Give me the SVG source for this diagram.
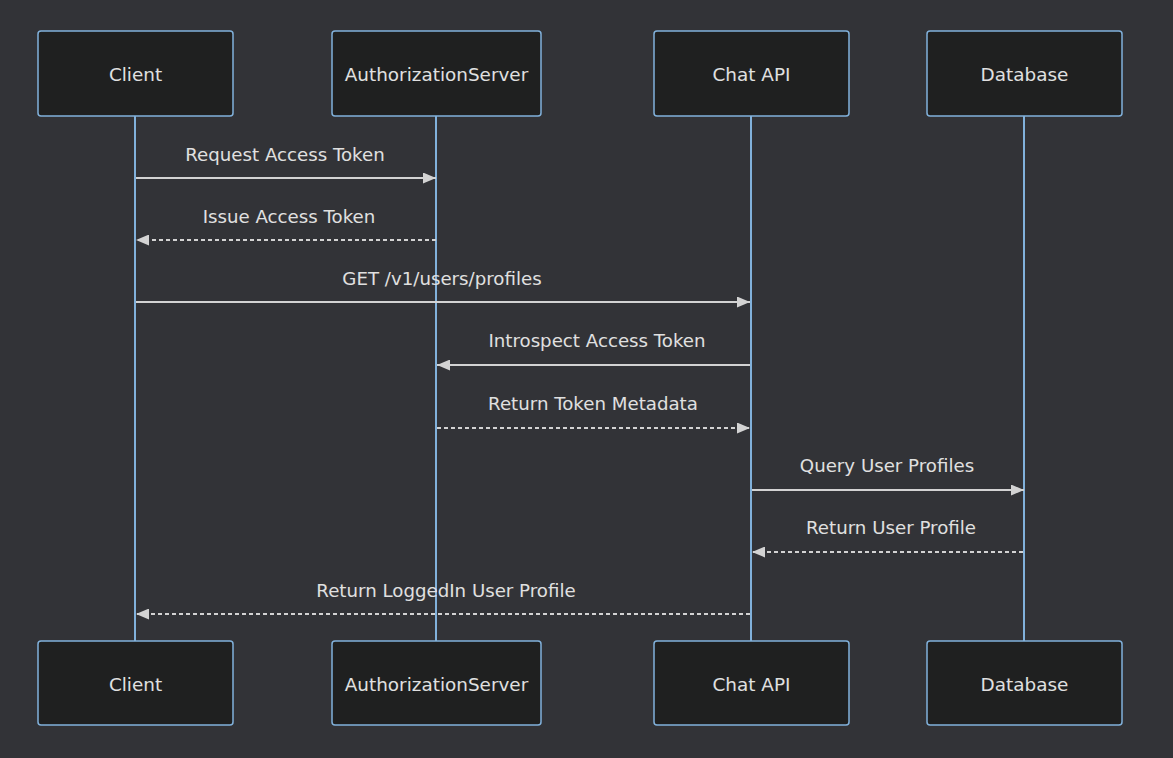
<svg xmlns="http://www.w3.org/2000/svg" width="1173" height="758" viewBox="0 0 1173 758">
<defs>
<style>
.bg{fill:#323337}
.actor rect{fill:#1f2020;stroke:#81b1db;stroke-width:1.5}
.actor text{fill:#e0e0e0;font-family:"DejaVu Sans",sans-serif;font-size:18.4px;text-anchor:middle;dominant-baseline:central}
.life{stroke:#81b1db;stroke-width:2}
.msg{stroke:#d3d3d3;stroke-width:2;fill:none}
.dash{stroke-dasharray:4 3}
.lbl{fill:#e0e0e0;font-family:"DejaVu Sans",sans-serif;font-size:18.2px;text-anchor:middle}
</style>
<marker id="ah" viewBox="0 0 13 11" refX="13" refY="5.5" markerWidth="13" markerHeight="11" markerUnits="userSpaceOnUse" orient="auto">
<path d="M0,0 L13,5.5 L0,11 z" fill="#d3d3d3"/>
</marker>
</defs>
<rect class="bg" width="1173" height="758"/>
<g id="lifelines">
<line class="life" x1="135" y1="116" x2="135" y2="641"/>
<line class="life" x1="436" y1="116" x2="436" y2="641"/>
<line class="life" x1="751" y1="116" x2="751" y2="641"/>
<line class="life" x1="1024" y1="116" x2="1024" y2="641"/>
</g>
<g id="client-top" class="actor"><rect x="38" y="31" width="195" height="85" rx="3"/><text x="135.5" y="74">Client</text></g>
<g id="auth-top" class="actor"><rect x="332" y="31" width="209" height="85" rx="3"/><text x="436.5" y="74">AuthorizationServer</text></g>
<g id="chat-top" class="actor"><rect x="654" y="31" width="195" height="85" rx="3"/><text x="751.5" y="74">Chat API</text></g>
<g id="db-top" class="actor"><rect x="927" y="31" width="195" height="85" rx="3"/><text x="1024.5" y="74">Database</text></g>
<g id="client-bottom" class="actor"><rect x="38" y="641" width="195" height="84" rx="3"/><text x="135.5" y="684">Client</text></g>
<g id="auth-bottom" class="actor"><rect x="332" y="641" width="209" height="84" rx="3"/><text x="436.5" y="684">AuthorizationServer</text></g>
<g id="chat-bottom" class="actor"><rect x="654" y="641" width="195" height="84" rx="3"/><text x="751.5" y="684">Chat API</text></g>
<g id="db-bottom" class="actor"><rect x="927" y="641" width="195" height="84" rx="3"/><text x="1024.5" y="684">Database</text></g>
<g id="connectors">
<line class="msg" x1="136" y1="178" x2="436" y2="178" marker-end="url(#ah)"/>
<text class="lbl" x="285" y="161">Request Access Token</text>
<line class="msg dash" x1="436" y1="240" x2="136" y2="240" marker-end="url(#ah)"/>
<text class="lbl" x="289" y="223">Issue Access Token</text>
<line class="msg" x1="136" y1="302" x2="750" y2="302" marker-end="url(#ah)"/>
<text class="lbl" x="442" y="285">GET /v1/users/profiles</text>
<line class="msg" x1="750" y1="365" x2="437" y2="365" marker-end="url(#ah)"/>
<text class="lbl" x="597" y="347">Introspect Access Token</text>
<line class="msg dash" x1="437" y1="428" x2="750" y2="428" marker-end="url(#ah)"/>
<text class="lbl" x="593" y="410">Return Token Metadata</text>
<line class="msg" x1="752" y1="490" x2="1024" y2="490" marker-end="url(#ah)"/>
<text class="lbl" x="887" y="472">Query User Profiles</text>
<line class="msg dash" x1="1023" y1="552" x2="752" y2="552" marker-end="url(#ah)"/>
<text class="lbl" x="891" y="534">Return User Profile</text>
<line class="msg dash" x1="750" y1="614" x2="136" y2="614" marker-end="url(#ah)"/>
<text class="lbl" x="446" y="597">Return LoggedIn User Profile</text>
</g>
</svg>
